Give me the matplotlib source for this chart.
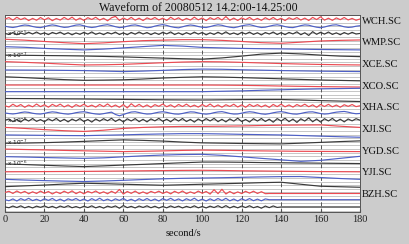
import numpy as np
import matplotlib
matplotlib.use("Agg")
import matplotlib.pyplot as plt

plt.rcParams['font.family'] = ['Liberation Serif', 'DejaVu Serif']

stations = ["WCH.SC", "WMP.SC", "XCE.SC", "XCO.SC", "XHA.SC", "XJI.SC", "YGD.SC", "YJI.SC", "BZH.SC"]
xticks = [0, 20, 40, 60, 80, 100, 120, 140, 160, 180]
title = "Waveform of 20080512 14.2:00-14.25:00"
xlabel = "second/s"
# scale labels (trace index, exponent)
scale_trace = [2, 5, 14, 17, 20]
scale_exp = [-5, -7, -5, -7, -6]

# deflections (downwards positive), 1 trace spacing = 7.23 units
wch_r = [0,-1.4,1.2,-1.7,0.6,-1.1,1.6,-0.6,1.3,-1.5,0.9,-1.2,1.7,-0.5,1.1,-1.6,0.7,-1.8,1.3,-0.9,
         1.5,-1.3,0.5,-1.7,1.1,-0.7,1.8,-1.2,-2.6,1.4,-1.0,0.9,-1.6,1.2,-0.8,1.6,-1.1,0.5,-1.5,1.0,
         -0.8,1.4,-1.7,0.7,-1.2,1.5,-0.6,1.1,-1.8,0.9,-1.0,1.6,-1.3,0.6,-1.5,1.1,-2.4,1.3,-0.9,1.5,
         -1.1,0.7,-1.6,1.2,-0.6,1.4,-1.3,0.8,-1.5,1.0,-0.7,1.6,-1.2,0.5,-1.4,1.1,-0.9,1.5,-1.6,0.6,
         -2.2,1.2,-0.8,1.4,-1.1,0.7,-1.5,1.0,-0.6,1.3,0]
wch_b = [0,0.8,1.3,0.6,-0.5,-1.2,-0.8,0.3,1.1,1.4,0.5,-0.6,-1.3,-0.7,0.4,1.2,0.9,-0.2,-1.1,-1.4,
         -0.4,0.7,1.3,0.8,-0.3,-1.0,-1.5,-0.6,0.5,1.4,1.0,0,-0.9,-1.3,-0.5,0.6,1.5,1.1,-0.1,-1.0,
         -1.6,-0.8,0.4,1.2,1.6,0.6,-0.5,-1.2,-0.7,0.3,1.1,1.3,0.4,-0.7,-1.4,-0.9,0.2,1.0,1.5,0.7,
         -0.4,-1.1,-1.5,-0.6,0.5,1.3,1.0,0,-0.9,-1.4,-0.7,0.4,1.2,1.4,0.5,-0.6,-1.3,-1.0,0.1,1.0,
         1.5,0.8,-0.3,-1.1,-1.4,-0.5,0.6,1.2,0.9,0,-0.5]
wch_k = [0,1.1,-0.9,1.3,-0.4,0.9,-1.2,0.6,-1.4,0.8,-0.6,1.2,-1.0,0.4,-1.3,1.0,-0.7,1.4,-0.5,0.9,
         -1.1,0.7,-1.5,0.9,-0.5,1.2,-0.9,0.5,-1.3,1.1,-0.6,1.3,-1.0,0.8,-1.4,0.6,-0.9,1.2,-0.7,1.0,
         -1.2,0.5,-1.5,1.1,-0.6,1.3,-0.8,0.9,-1.3,0.7,-1.0,1.4,-0.6,1.0,-1.2,0.8,-1.6,0.9,-0.5,1.2,
         -1.1,0.6,-1.3,1.0,-0.7,1.5,-0.9,0.6,-1.4,1.1,-0.8,1.2,-1.0,0.5,-1.6,1.3,-0.7,2.0,-1.8,0.9,
         -1.2,0.7,-1.4,1.0,-0.6,1.3,-0.9,0.8,-1.1,0.6,0]
wmp_r = [-1.4,-0.5,0.8,2,3,2.2,1,0,-0.5,-1,-1,-0.3,0.8,2,2.6,1.5,0.3,-0.3,-0.7]
wmp_b = [-1.2,-0.6,0.5,1.3,2,1.2,0,-1.3,-2.5,-1.8,-0.5,0,0.5,0.8,1,1.3,1.6,1.8,2]
wmp_k = [0,0.2,0.4,0.6,0.9,1.3,1.8,2.4,3,3.6,4,2.8,1,-1,-2,-1.2,0,1,1.5]
xce_r = [-0.7,0,0.8,1.8,2.6,2.4,2,1.2,0.4,-0.3,-0.7,-0.5,0,0.6,1.2,1.7,2.1,2.4,2.6]
xce_b = [0.4,0.5,0.6,0.8,1,1.5,2,1.5,0.8,0,-0.5,-0.3,0.2,0.6,1,1.3,1.6,1.8,2]
xce_k = [0,0.8,1.8,2.8,3.5,3.3,3,2.2,1.2,0.5,0,0.3,0.8,1.4,2,2.6,3.2,3.6,4]
xco_r = [1,1,1,1,1,1,1,1,1,1,1,1.1,1.3,1.6,2,2.3,2.6,2.8,3]
xco_b = [0.4,0.4,0.4,0.4,0.4,0.4,0.4,0.4,0.4,0.4,0.4,0,-0.4,-1,-1.5,-2,-2.4,-2.7,-3]
xco_k = [0,0.1,0.2,0.4,0.5,0.7,0.9,1.1,1.3,1.4,1.5,1.3,1.1,1,1,1.5,2.1,2.6,3]
xha_r = [0,1.3,-1.5,0.8,-1.2,1.6,-0.7,1.1,-1.7,0.9,-1.0,1.5,-1.4,0.6,-1.6,1.2,-0.8,1.7,-1.1,0.7,
         -1.5,1.0,-0.6,1.4,-1.3,0.9,-1.8,1.2,-0.7,1.6,-1.2,2.2,-2.0,1.0,-1.4,1.3,-0.8,1.6,-1.1,0.6,
         -1.7,1.0,-0.9,1.5,-1.3,0.8,-1.6,1.1,-0.6,1.4,-1.2,0.9,-1.7,1.2,-0.8,1.5,-1.0,0.7,-1.5,1.3,
         -0.9,1.6,-1.4,0.8,-1.1,1.2,-0.7,1.7,-1.3,0.9,-1.6,1.1,-0.8,1.4,-1.2,0.6,-1.5,1.0,-0.9,1.6,
         -1.3,0.8,-1.4,1.1,-0.7,1.5,-1.0,0.6,-1.2,0.9,0]
xha_b = [0,0.6,1.0,0.5,-0.4,-1.0,-0.6,0.3,0.9,1.1,0.4,-0.5,-1.1,-0.7,0.2,0.8,1.2,0.6,-0.3,-0.9,
         -1.2,-0.5,0.4,1.0,1.3,0.7,-0.1,-0.8,1.5,2.8,1.6,0.2,-0.9,-1.2,-0.4,0.5,1.1,0.9,0,-0.8,
         -1.2,-0.6,0.3,1.0,1.2,0.5,-0.4,-1.1,-0.9,0,0.8,1.2,0.7,-0.3,-1.0,-1.3,-0.5,0.5,1.1,1.0,
         0.2,-0.7,-1.2,-0.8,0.1,0.9,1.3,0.7,-0.2,-0.9,-1.3,-0.7,0.3,1.0,1.2,0.5,-0.4,-1.0,-1.1,-0.3,
         0.6,1.1,0.8,-0.1,-0.8,-1.2,-1.5,-0.8,0.2,0.8,0.5]
xha_k = [0,-1.2,1.5,-0.8,1.8,-1.3,0.9,-1.7,1.2,-0.6,1.6,-1.4,0.7,-1.8,1.3,-0.9,1.7,-1.1,0.8,-1.6,
         1.4,-0.7,1.9,-1.2,1.0,-1.5,0.6,-1.9,1.3,-1.0,1.8,-1.4,0.8,-1.6,1.5,-0.9,1.7,-1.3,0.7,-1.8,
         1.2,-1.0,1.6,-1.5,0.9,-1.7,1.4,-0.8,1.9,-1.2,1.1,-1.6,0.8,-1.8,1.5,-0.9,1.7,-1.3,1.0,-2.0,
         1.4,-0.7,1.8,-1.5,0.9,-1.7,1.3,-1.0,2.0,-1.6,0.8,-1.9,1.5,-1.1,2.2,-1.4,0.9,-2.3,1.6,-1.2,
         1.9,-1.5,0.8,-1.8,1.3,-1.0,1.7,-1.2,0.7,-1.5,0]
xji_r = [0,1,2.2,3.3,4,2.8,1,0,-0.6,-1,-1,-1.2,-1.5,-1.9,-2.2,-2.4,-2.5,-1.2,0]
xji_b = [0.3,0.5,0.7,0.9,1,0.6,0.2,-0.3,-0.7,-1,-1,-0.7,-0.3,0,0.3,0.9,1.5,2.1,2.6]
xji_k = [1.4,1.2,0.8,0.2,-0.5,-1.3,-2,-1.5,-0.8,0.2,1,1.3,1.6,1.8,2,1.3,0.5,-0.3,-1]
ygd_r = [0,0.4,0.8,1.3,1.7,2.1,2.5,2.2,1.8,1.3,1,1.2,1.5,1.8,2,2.2,2.3,2.4,2.5]
ygd_b = [0.3,0.7,1.2,1.6,2,1.5,0.5,-0.5,-1.3,-1.8,-2,-1,0.5,2,3.5,5,4,2,0]
ygd_k = [0.4,1,1.7,2.4,3,2.3,1.5,0.8,0,-0.8,-1.5,-1.5,-1.3,-1,-0.8,-0.6,-0.4,-0.2,0]
yji_r = [1,0.9,0.8,0.7,0.6,0.4,0.2,0,-0.2,-0.4,-0.5,-0.3,0,0.2,0.4,0.6,0.8,0.9,1]
yji_b = [1.3,2,2.6,3.1,3.5,3,2.3,1.5,0.8,0.3,0,-0.3,-0.7,-1.1,-1.4,-1.5,-0.5,0.5,1.3]
yji_k = [1.4,0.6,-0.2,-1.2,-2,-1.6,-1,-0.5,0,-0.5,-1,-1.5,-2,-2.6,-3,-1,1,1.5,2]
bzh_r = [0,-1.2,1.0,-1.5,0.6,-1.1,1.3,-0.7,1.0,-1.4,0.8,-1.0,1.5,-0.6,1.1,-1.3,0.7,-1.6,1.2,-0.8,
         1.4,-1.1,0.5,-1.5,1.0,-0.7,1.3,-1.2,0.8,-3.0,1.6,-1.0,0.9,-1.4,1.2,-0.6,1.3,-1.1,0.5,-1.3,
         1.0,-0.8,1.4,-1.2,0.7,-1.5,1.2,-0.6,1.0,-1.4,0.8,-1.0,1.6,-2.8,1.2,-3.2,1.5,-1.0,1.3,-0.6,
         1.1,-1.2,0.7,-1.3,1.0,-0.8,1.2,1.0]
bzh_b = [0,1.0,-0.8,1.3,-1.1,0.6,-1.4,0.9,-0.5,1.2,-1.0,0.7,-1.3,1.1,-0.6,1.4,-0.9,0.5,-1.2,1.0,
         -0.7,1.3,-1.1,0.8,-1.5,1.0,-0.6,1.2,-0.9,0.7,-1.3,1.1,-0.5,1.4,-1.0,0.8,-1.2,1.0,-0.7,1.3,
         -1.1,0.6,-1.4,0.9,-0.8,1.2,-1.0,0.7,-1.5,1.1,-0.6,1.3,-0.9,1.0,-1.2,0.8,-1.4,1.1,-0.7,1.3,
         -1.0,0.8,-1.2,1.0,-0.6,1.1,-0.8,0]
bzh_k = [0,0.8,-0.9,0.6,-1.1,0.9,-0.5,1.0,-0.8,0.4,-1.0,0.7,-0.6,1.1,-0.9,0.5,-1.2,0.8,-0.4,1.0,
         -0.7,0.6,-1.1,0.9,-0.5,1.2,-0.8,0.4,-1.0,1.3,-1.4,0.7,-0.6,1.0,-0.9,0.5,-1.1,0.8,-0.7,1.1,
         -0.5,0.9,-1.0,0.6,-0.8,1.0,-0.6,0.7,-1.1,0.9,-0.5,1.0,-0.8,0.6,-1.2,0.8,-1.3,1.0,-0.7,0.9,
         -0.9,0.6,-1.2,0.8,-0.5,1.3,-0.9,0.7,-1.0,0.5,0]
# BZH traces end (seconds) and flat level afterwards
bzh_end = [134, 134, 140]
bzh_tail = [1.0, 0.0, 0.0]

traces = [wch_r, wch_b, wch_k, wmp_r, wmp_b, wmp_k, xce_r, xce_b, xce_k,
          xco_r, xco_b, xco_k, xha_r, xha_b, xha_k, xji_r, xji_b, xji_k,
          ygd_r, ygd_b, ygd_k, yji_r, yji_b, yji_k]
bzh = [bzh_r, bzh_b, bzh_k]

SPACING = 7.23
colors = ['#ec4a52', '#4e60c6', '#3a3a3a']

fig = plt.figure(figsize=(4.09, 2.44), dpi=100, facecolor='#cccccc')
ax = fig.add_axes([5/409, 1 - 212/244, 355/409, 197/244])
ax.set_facecolor('white')

# horizontal gray grid
for g in np.arange(0.5, -27.0, -0.5):
    ax.axhline(g, color='#bdbdbd', lw=0.6, zorder=1)
for xv in xticks[1:-1]:
    ax.axvline(xv, color='#555555', lw=0.7, ls=(0, (4, 2.5)), zorder=2)

for i, tr in enumerate(traces):
    v = np.array(tr, dtype=float)
    t = np.linspace(0, 180, len(v))
    ax.plot(t, -i - v / SPACING, color=colors[i % 3], lw=0.85, zorder=3)
for j, tr in enumerate(bzh):
    i = 24 + j
    v = np.append(np.array(tr, dtype=float), bzh_tail[j])
    t = np.append(np.linspace(0, bzh_end[j], len(tr)), 180)
    ax.plot(t, -i - v / SPACING, color=colors[j], lw=0.85, zorder=3)

for k, e in zip(scale_trace, scale_exp):
    ax.text(0.8, -k, r"x 10$^{%d}$" % e, fontsize=4.2, va='center', ha='left',
            color='#222222', zorder=4, family='DejaVu Sans')

ax.set_xlim(0, 180)
ax.set_ylim(-26.7, 0.55)
ax.set_yticks([])
ax.set_xticks(xticks)
ax.tick_params(axis='x', direction='in', length=2, labelsize=7.5, pad=2, colors='#222222')
for s in ax.spines.values():
    s.set_color('#555555')
    s.set_linewidth(0.7)

for n, name in enumerate(stations):
    ax.text(181, -3 * n - 0.3, name, fontsize=7.6, va='center', ha='left',
            color='#111111', clip_on=False)

fig.text(198/409, 1 - 8/244, title, fontsize=8.6, ha='center', va='center', color='#111111')
fig.text(183/409, 1 - 234/244, xlabel, fontsize=7.5, ha='center', va='center', color='#111111')

fig.savefig('out.png', dpi=100, facecolor=fig.get_facecolor())
